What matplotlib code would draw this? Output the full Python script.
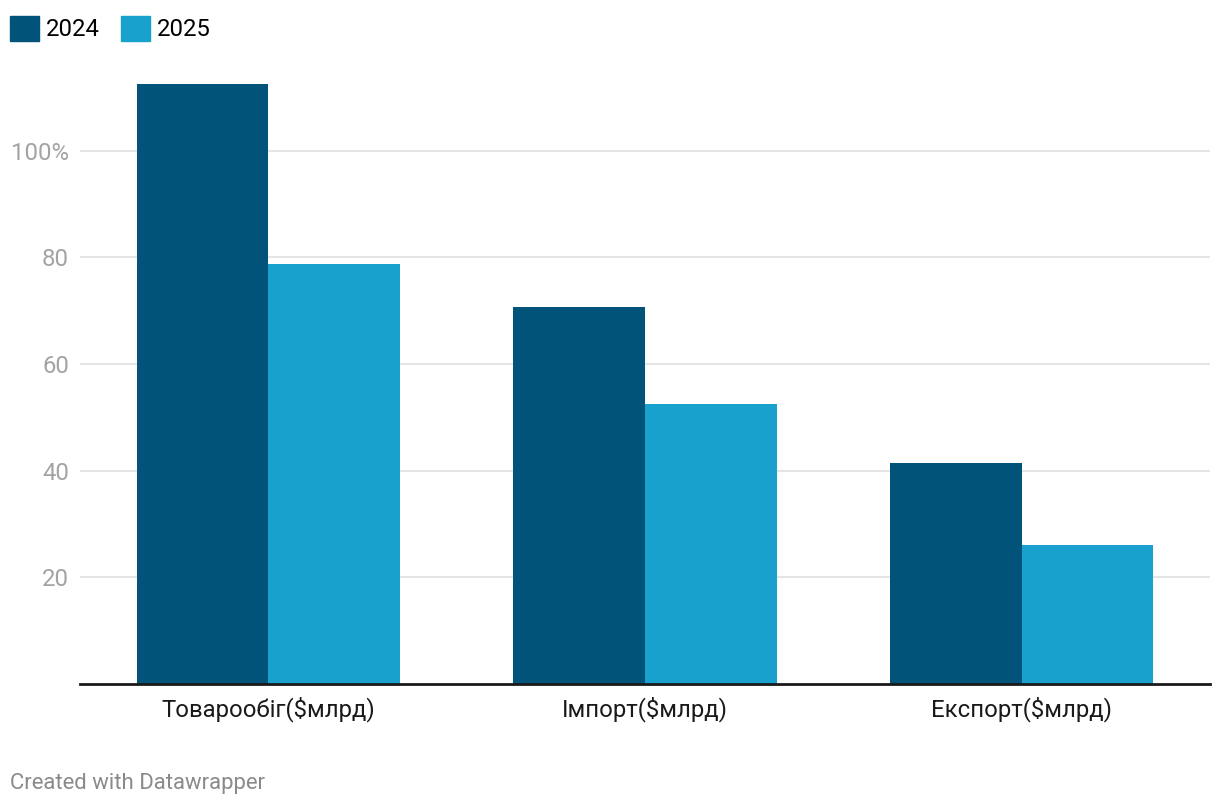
import matplotlib.pyplot as plt
import numpy as np
from matplotlib.patches import Patch

plt.rcParams['font.family'] = ['Roboto', 'DejaVu Sans']

# Data
categories = ["Товарообіг($млрд)", "Імпорт($млрд)", "Експорт($млрд)"]
values_2024 = [112.4, 70.7, 41.5]
values_2025 = [78.8, 52.5, 26.1]
yticks = [20, 40, 60, 80, 100]
ytick_labels = ["20", "40", "60", "80", "100%"]

c2024 = "#015379"
c2025 = "#19a1cd"

W, H = 1220, 806
fig = plt.figure(figsize=(W / 100, H / 100), dpi=100)
ax = fig.add_axes([80 / W, (H - 684) / H, 1130 / W, 614 / H])

x = np.arange(len(categories))
w = 0.35
ax.bar(x - w / 2, values_2024, w, color=c2024, zorder=2)
ax.bar(x + w / 2, values_2025, w, color=c2025, zorder=2)

ax.set_xlim(-0.5, 2.5)
ax.set_ylim(0, 115.1)
ax.set_yticks(yticks)
ax.set_yticklabels(ytick_labels)
ax.set_xticks(x)
ax.set_xticklabels(categories)

ax.grid(axis='y', color='#e5e5e5', linewidth=1.5, zorder=0)
for s in ['top', 'right', 'left']:
    ax.spines[s].set_visible(False)
ax.spines['bottom'].set_color('#1a1a1a')
ax.spines['bottom'].set_linewidth(2)
ax.spines['bottom'].set_zorder(3)

ax.tick_params(axis='y', length=0, pad=8, labelsize=17.2, labelcolor='#a3a3a3')
ax.tick_params(axis='x', length=0, pad=9, labelsize=17.2, labelcolor='#1a1a1a')

# legend across the top
handles = [Patch(color=c2024, label='2024'), Patch(color=c2025, label='2025')]
fig.legend(handles=handles, loc='upper left', bbox_to_anchor=(10 / W, 1 - 16 / H),
           ncol=2, frameon=False, fontsize=17.2, handlelength=1.22, handleheight=1.22,
           handletextpad=0.28, columnspacing=0.9, borderpad=0, borderaxespad=0)

fig.text(10 / W, 1 - 784 / H, "Created with Datawrapper", fontsize=15.9,
         color='#8a8a8a', va='center', ha='left')

fig.savefig('out.png', dpi=100)
